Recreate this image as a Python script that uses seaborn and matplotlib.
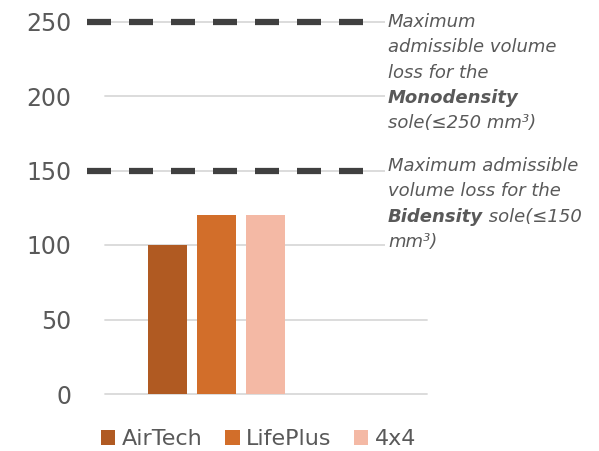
import matplotlib
matplotlib.use("Agg")
import matplotlib.pyplot as plt
import seaborn as sns
import pandas as pd
from matplotlib.patches import Patch, Rectangle

# ---- data ----
series = ["AirTech", "LifePlus", "4x4"]
values = [100, 120, 120]
colors = ["#B05A22", "#D26E2A", "#F4B9A5"]
thresholds = [250, 150]
yticks = [0, 50, 100, 150, 200, 250]
note_lines = [
    [[("Maximum", "normal")],
     [("admissible volume", "normal")],
     [("loss for the", "normal")],
     [("Monodensity", "bold")],
     [("sole(≤250 mm³)", "normal")]],
    [[("Maximum admissible", "normal")],
     [("volume loss for the", "normal")],
     [("Bidensity", "bold"), (" sole(≤150", "normal")],
     [("mm³)", "normal")]],
]

W, H = 599, 451
sns.set_theme(style="white")
plt.rcParams["font.family"] = ["DejaVu Sans"]
fig = plt.figure(figsize=(W / 100, H / 100), dpi=100)

def fx(x):
    return x / W

def fy(y):
    return 1 - y / H

ax = fig.add_axes([fx(105), fy(394), (427 - 105) / W, (394 - 21.5) / H])

df = pd.DataFrame({"group": [""] * len(series), "series": series, "value": values})
sns.barplot(data=df, x="group", y="value", hue="series", hue_order=series,
            palette=colors, width=0.8, gap=0.2, saturation=1, legend=False, ax=ax,
            linewidth=0, edgecolor="none", zorder=3)

ax.set_xlim(-0.607, 1.144)
ax.set_ylim(0, 250)
ax.set_yticks(yticks)
ax.set_xticks([])
ax.set_xlabel("")
ax.set_ylabel("")
for s in ax.spines.values():
    s.set_visible(False)
ax.yaxis.grid(True, color="#D9D9D9", lw=1.3)
ax.set_axisbelow(True)
ax.tick_params(axis="y", length=0, pad=24, labelsize=17, labelcolor="#595959")
for gl in ax.get_ygridlines():
    gl.set_clip_on(False)

# threshold dashed lines
for v in thresholds:
    ax.plot([-0.705, 0.808], [v, v], color="#404040", lw=4.5,
            dashes=(24 / 6.25, 18 / 6.25), solid_capstyle="butt", dash_capstyle="butt",
            clip_on=False, zorder=4)

# white boxes hiding grid lines behind notes
for (y0, y1) in [(8, 138), (152, 258)]:
    fig.patches.append(Rectangle((fx(385), fy(y1)), fx(440 - 385), (y1 - y0) / H,
                                 transform=fig.transFigure, facecolor="white",
                                 edgecolor="none", zorder=5))

fig.canvas.draw()
renderer = fig.canvas.get_renderer()
starts = [27, 171]
for block, y0 in zip(note_lines, starts):
    for i, line in enumerate(block):
        x = 388
        y = y0 + i * 25.3
        for txt, wt in line:
            t = fig.text(fx(x), fy(y), txt, fontsize=13, style="italic", weight=wt,
                         color="#595959", va="baseline", ha="left", zorder=6)
            bb = t.get_window_extent(renderer=renderer)
            x += bb.width

handles = [Patch(facecolor=c, edgecolor="none") for c in colors]
fig.legend(handles, series, loc="center left", bbox_to_anchor=(fx(101), fy(439)),
           ncol=3, frameon=False, fontsize=16, handlelength=0.65, handleheight=0.65,
           handletextpad=0.3, columnspacing=1.0, borderpad=0, borderaxespad=0,
           labelcolor="#595959")

fig.savefig("out.png", dpi=100)
